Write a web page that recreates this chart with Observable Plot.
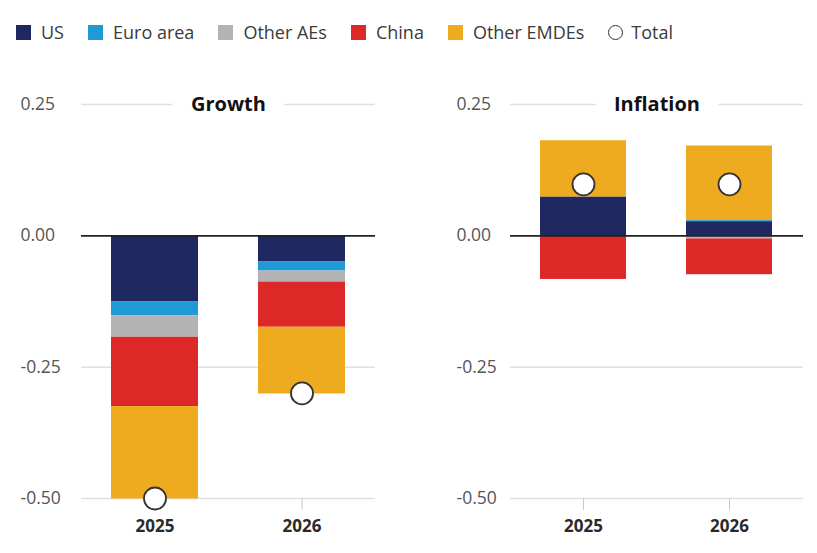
<!DOCTYPE html>
<html>
<head>
<meta charset="utf-8">
<script src="https://cdn.jsdelivr.net/npm/d3@7"></script>
<script src="https://cdn.jsdelivr.net/npm/@observablehq/plot@0.6"></script>
<style>
  html, body { margin: 0; padding: 0; background: #fff; }
  body { width: 817px; height: 553px; overflow: hidden; font-family: "Open Sans", sans-serif; }
  #legend { height: 60px; box-sizing: border-box; padding-top: 21px; padding-left: 16px; display: flex; align-items: flex-start; font-size: 18px; color: #3a3a3a; }
  .item { display: flex; align-items: center; margin-right: 24px; height: 22px; }
  .sw { width: 15px; height: 15px; margin-right: 10px; }
  .circ { width: 13px; height: 13px; border: 1.8px solid #333; border-radius: 50%; margin-right: 8px; }
  #charts { display: flex; }
</style>
</head>
<body>
<div id="legend"></div>
<div id="charts"></div>
<script>
const years = ["2025", "2026"];
const regions = ["US", "Euro area", "Other AEs", "China", "Other EMDEs"];
const colors = ["#1f2860", "#1f9ad6", "#b3b3b3", "#dc2826", "#efab1f"];
const growth2025 = [-0.126, -0.026, -0.041, -0.132, -0.176];
const growth2026 = [-0.049, -0.018, -0.021, -0.086, -0.127];
const inflation2025 = [0.074, 0.0, 0.0, -0.083, 0.107];
const inflation2026 = [0.027, 0.002, -0.006, -0.068, 0.142];
const growthTotal = [-0.50, -0.30];
const inflationTotal = [0.098, 0.098];
const yTicks = [0.25, 0, -0.25, -0.5];

// legend
const legend = document.getElementById("legend");
regions.forEach((r, i) => {
  const it = document.createElement("div");
  it.className = "item";
  it.innerHTML = `<span class="sw" style="background:${colors[i]}"></span><span>${r}</span>`;
  legend.appendChild(it);
});
const tot = document.createElement("div");
tot.className = "item";
tot.innerHTML = `<span class="circ"></span><span>Total</span>`;
legend.appendChild(tot);

function panel({title, values, totals, width, marginLeft, marginRight, tickPadding}) {
  const rows = years.flatMap((yr, i) => regions.map((r, j) => ({year: yr, region: r, value: values[i][j]})));
  const totRows = years.map((yr, i) => ({year: yr, value: totals[i]}));
  return Plot.plot({
    width, height: 493,
    marginTop: 44, marginBottom: 55, marginLeft, marginRight,
    style: {fontFamily: "'Open Sans', sans-serif", background: "white"},
    x: {domain: years, paddingInner: 0.41, paddingOuter: 0.205, label: null},
    y: {domain: [-0.5, 0.25], label: null},
    color: {domain: regions, range: colors},
    marks: [
      Plot.ruleY(yTicks.filter(d => d !== 0), {stroke: "#dde0e4", strokeWidth: 1.5}),
      Plot.axisY({ticks: yTicks, tickSize: 0, tickPadding, textAnchor: "start", tickFormat: d => d.toFixed(2), fontSize: 17.5, fill: "#555", label: null}),
      Plot.axisX({tickSize: 12, tickPadding: 9, stroke: "#c8c8c8", fill: "#2a2a2a", fontSize: 17, fontWeight: "bold", label: null}),
      Plot.barY(rows, {x: "year", y: "value", fill: "region"}),
      Plot.ruleY([0], {stroke: "#222", strokeWidth: 1.6}),
      Plot.dot(totRows, {x: "year", y: "value", r: 11, fill: "white", stroke: "#333", strokeWidth: 1.8}),
      Plot.text([title], {frameAnchor: "top", lineAnchor: "middle", text: d => d, fontSize: 20, fontWeight: "bold", fill: "#111", stroke: "white", strokeWidth: 40, strokeLinejoin: "round", paintOrder: "stroke"})
    ]
  });
}

const charts = document.getElementById("charts");
charts.appendChild(panel({title: "Growth", values: [growth2025, growth2026], totals: growthTotal, width: 400, marginLeft: 81, marginRight: 25, tickPadding: 61}));
charts.appendChild(panel({title: "Inflation", values: [inflation2025, inflation2026], totals: inflationTotal, width: 417, marginLeft: 110, marginRight: 14, tickPadding: 54}));
</script>
</body>
</html>
